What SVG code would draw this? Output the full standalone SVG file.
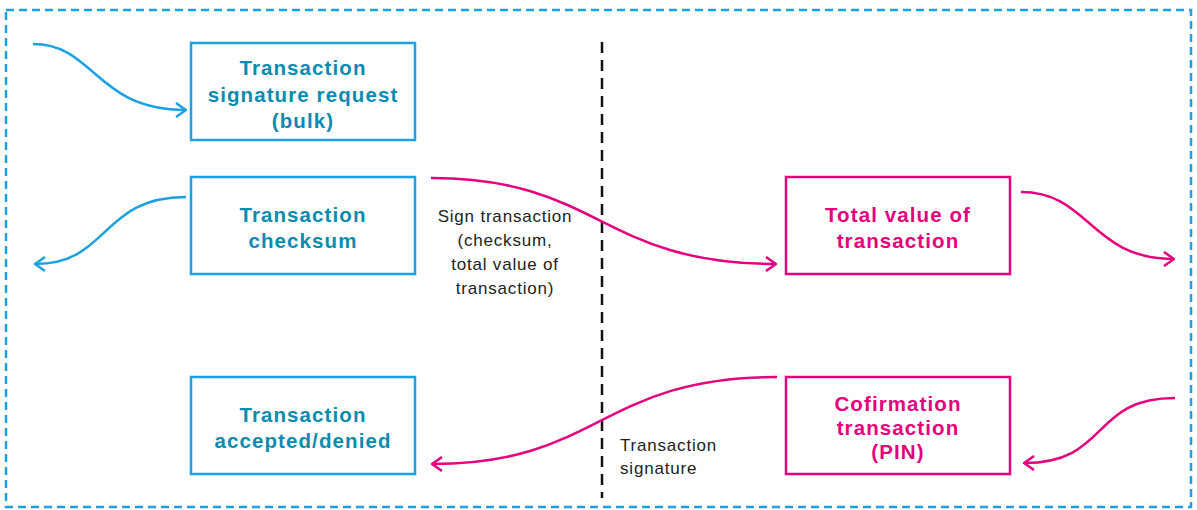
<svg xmlns="http://www.w3.org/2000/svg" width="1197" height="510" viewBox="0 0 1197 510">
  <style>
    .frame { fill: none; stroke: #1ba1e2; stroke-width: 2.5; stroke-dasharray: 8 5; }
    .divider { fill: none; stroke: #111; stroke-width: 2.5; stroke-dasharray: 11 7; }
    .box-b { fill: #fff; stroke: #1ba1e2; stroke-width: 2.5; }
    .box-p { fill: #fff; stroke: #e5007d; stroke-width: 2.5; }
    .title { font-family: "Liberation Sans", Arial, sans-serif; font-weight: bold; font-size: 20.5px; letter-spacing: 1.1px; text-anchor: middle; }
    .tb { fill: #0a8cb0; }
    .tp { fill: #e5007d; }
    .note { font-family: "Liberation Sans", Arial, sans-serif; font-size: 17px; letter-spacing: 0.8px; fill: #222; }
    .link-b { fill: none; stroke: #1ba1e2; stroke-width: 2.5; marker-end: url(#arrow-b); }
    .link-p { fill: none; stroke: #e5007d; stroke-width: 2.5; marker-end: url(#arrow-p); }
  </style>
  <defs>
    <marker id="arrow-b" viewBox="0 0 12 16" refX="11" refY="8" markerWidth="12" markerHeight="16" markerUnits="userSpaceOnUse" orient="auto">
      <path d="M1,1 L11,8 L1,15" fill="none" stroke="#1ba1e2" stroke-width="2.5"/>
    </marker>
    <marker id="arrow-p" viewBox="0 0 12 16" refX="11" refY="8" markerWidth="12" markerHeight="16" markerUnits="userSpaceOnUse" orient="auto">
      <path d="M1,1 L11,8 L1,15" fill="none" stroke="#e5007d" stroke-width="2.5"/>
    </marker>
  </defs>

  <!-- outer dashed frame and the vertical divider -->
  <rect class="frame" x="6" y="10" width="1185" height="497"/>
  <line class="divider" x1="602" y1="42" x2="602" y2="498"/>

  <g id="connectors">
    <path class="link-b" d="M33,44 C95,44 95,110 186,110"/>
    <path class="link-b" d="M186,197 C100,197 110,264 35,264"/>
    <path class="link-p" d="M431,178 C600,178 600,264 776,264"/>
    <path class="link-p" d="M1021,192 C1090,192 1090,259 1174,259"/>
    <path class="link-p" d="M1175,398 C1090,398 1110,463 1024,463"/>
    <path class="link-p" d="M777,377 C600,377 600,464 432,464"/>
  </g>

  <g id="node-request">
    <rect class="box-b" x="191" y="43" width="224" height="97"/>
    <text class="title tb" x="303" y="75">Transaction</text>
    <text class="title tb" x="303" y="102">signature request</text>
    <text class="title tb" x="303" y="128">(bulk)</text>
  </g>
  <g id="node-checksum">
    <rect class="box-b" x="191" y="177" width="224" height="97"/>
    <text class="title tb" x="303" y="222">Transaction</text>
    <text class="title tb" x="303" y="248">checksum</text>
  </g>
  <g id="node-result">
    <rect class="box-b" x="191" y="377" width="224" height="97"/>
    <text class="title tb" x="303" y="422">Transaction</text>
    <text class="title tb" x="303" y="448">accepted/denied</text>
  </g>
  <g id="node-total">
    <rect class="box-p" x="786" y="177" width="224" height="97"/>
    <text class="title tp" x="898" y="222">Total value of</text>
    <text class="title tp" x="898" y="248">transaction</text>
  </g>
  <g id="node-confirm">
    <rect class="box-p" x="786" y="377" width="224" height="97"/>
    <text class="title tp" x="898" y="411">Cofirmation</text>
    <text class="title tp" x="898" y="435">transaction</text>
    <text class="title tp" x="898" y="459">(PIN)</text>
  </g>

  <g id="label-sign">
    <text class="note" x="505" y="222" text-anchor="middle">Sign transaction</text>
    <text class="note" x="505" y="246" text-anchor="middle">(checksum,</text>
    <text class="note" x="505" y="270" text-anchor="middle">total value of</text>
    <text class="note" x="505" y="294" text-anchor="middle">transaction)</text>
  </g>
  <g id="label-signature">
    <text class="note" x="620" y="451">Transaction</text>
    <text class="note" x="620" y="474">signature</text>
  </g>
</svg>
